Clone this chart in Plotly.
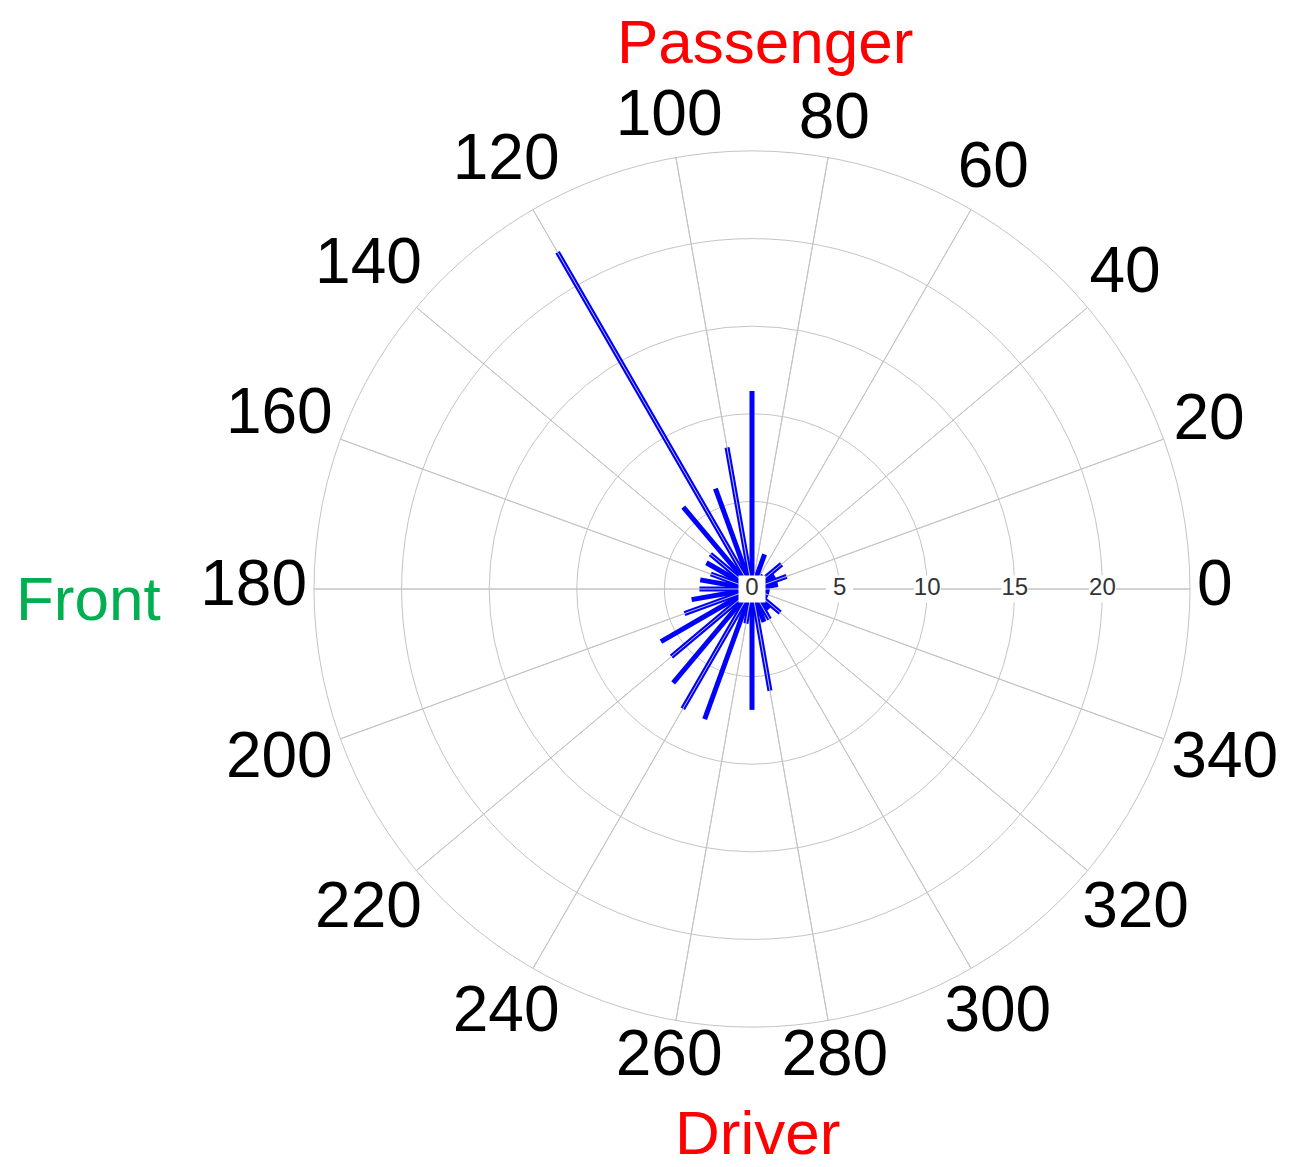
import math
import plotly.graph_objects as go

# Direction bins (degrees) and counts
angles = [0, 10, 20, 30, 40, 50, 60, 70, 80, 90, 100, 110, 120, 130, 140, 150, 160, 170,
          180, 190, 200, 210, 220, 230, 240, 250, 260, 270, 280, 290, 300, 310, 320, 330, 340, 350]
counts = [1.0, 1.5, 2.1, 1.5, 2.2, 1.0, 1.0, 2.1, 1.0, 11.3, 8.2, 6.1, 22.2, 6.1, 3.1, 3.0, 2.5, 3.0,
          3.0, 3.5, 4.1, 6.0, 6.0, 7.0, 7.9, 7.9, 2.0, 6.9, 5.9, 2.0, 2.0, 1.5, 2.1, 1.0, 1.0, 1.0]

angular_ticks = list(range(0, 360, 20))
angular_labels = [str(a) for a in angular_ticks]
radial_ticks = [0, 5, 10, 15, 20]
radial_labels = [str(v) for v in radial_ticks]

R_MAX = 25
R_OUTER = 30     # range of the invisible label layer (same scale)
GRID = "#C4C4C4"

W, H = 1298, 1167
OFF = 8  # page body margin
cx, cy = 752 - OFF, 589 - OFF
R = 438
PXU = R / R_MAX
R2 = R_OUTER * PXU

# label placement: nearest edge of each label box sits on a ring just outside the plot
LABEL_FONT = 64
DIGIT_W = 0.556 * LABEL_FONT
HALF_H = 0.36 * LABEL_FONT
RING_PX = 445
label_r = []
for a, t in zip(angular_ticks, angular_labels):
    c, s = abs(math.cos(math.radians(a))), abs(math.sin(math.radians(a)))
    half_ext = (len(t) * DIGIT_W / 2) * c + HALF_H * s
    label_r.append((RING_PX + half_ext) / PXU)

# build bars from centre to value
r_vals, t_vals = [], []
for a, c in zip(angles, counts):
    r_vals += [0, c, None]
    t_vals += [a, a, None]

# spoke overlay (grid drawn over bars, as in the original)
sr, st = [], []
for a in angular_ticks:
    sr += [0, R_MAX, None]
    st += [a, a, None]

fig = go.Figure()
fig.add_trace(go.Scatterpolar(
    r=r_vals, theta=t_vals, mode="lines",
    line=dict(color="#0000FF", width=5),
    hoverinfo="skip", showlegend=False,
))
fig.add_trace(go.Scatterpolar(
    r=sr, theta=st, mode="lines",
    line=dict(color=GRID, width=1),
    hoverinfo="skip", showlegend=False,
))
# radial tick labels sitting on the 0-degree line, with white box behind
fig.add_trace(go.Scatterpolar(
    r=radial_ticks, theta=[0] * len(radial_ticks), mode="markers+text",
    text=radial_labels, textposition="middle center",
    textfont=dict(size=24, color="#333333"),
    marker=dict(symbol="square", size=27, color="white", line=dict(width=0)),
    hoverinfo="skip", showlegend=False, cliponaxis=False,
))
# angle labels around the outside (on a transparent, same-scale polar layer)
fig.add_trace(go.Scatterpolar(
    r=label_r, theta=angular_ticks, mode="text",
    text=angular_labels, textposition="middle center",
    textfont=dict(size=LABEL_FONT, color="black"),
    hoverinfo="skip", showlegend=False, cliponaxis=False,
    subplot="polar2",
))


def px(x):
    return (x - OFF) / W


def py(y):
    return 1 - (y - OFF) / H


def dom(rad):
    return dict(x=[(cx - rad) / W, (cx + rad) / W], y=[1 - (cy + rad) / H, 1 - (cy - rad) / H])


hidden_axis = dict(showgrid=False, showline=False, showticklabels=False, ticks="")

fig.update_layout(
    width=W, height=H,
    margin=dict(l=0, r=0, t=0, b=0),
    paper_bgcolor="white",
    plot_bgcolor="white",
    font=dict(family="Liberation Sans, Arial, sans-serif"),
    polar=dict(
        domain=dom(R),
        bgcolor="white",
        radialaxis=dict(
            range=[0, R_MAX], tickvals=radial_ticks,
            angle=0, showline=False, ticks="", showticklabels=False,
            gridcolor=GRID, gridwidth=1,
        ),
        angularaxis=dict(
            rotation=0, direction="counterclockwise",
            tickvals=angular_ticks, showticklabels=False, ticks="",
            gridcolor=GRID, gridwidth=1,
            linecolor=GRID, linewidth=1,
        ),
    ),
    polar2=dict(
        domain=dom(R2),
        bgcolor="rgba(0,0,0,0)",
        radialaxis=dict(range=[0, R_OUTER], **hidden_axis),
        angularaxis=dict(rotation=0, direction="counterclockwise", **hidden_axis),
    ),
    annotations=[
        dict(text="Passenger", x=px(765), y=py(42), xref="paper", yref="paper",
             xanchor="center", yanchor="middle",
             showarrow=False, font=dict(size=62, color="#FF0000")),
        dict(text="Driver", x=px(757), y=py(1132), xref="paper", yref="paper",
             xanchor="center", yanchor="middle",
             showarrow=False, font=dict(size=62, color="#FF0000")),
        dict(text="Front", x=px(88), y=py(598), xref="paper", yref="paper",
             xanchor="center", yanchor="middle",
             showarrow=False, font=dict(size=62, color="#00B050")),
    ],
)

fig.write_html("out.html")
